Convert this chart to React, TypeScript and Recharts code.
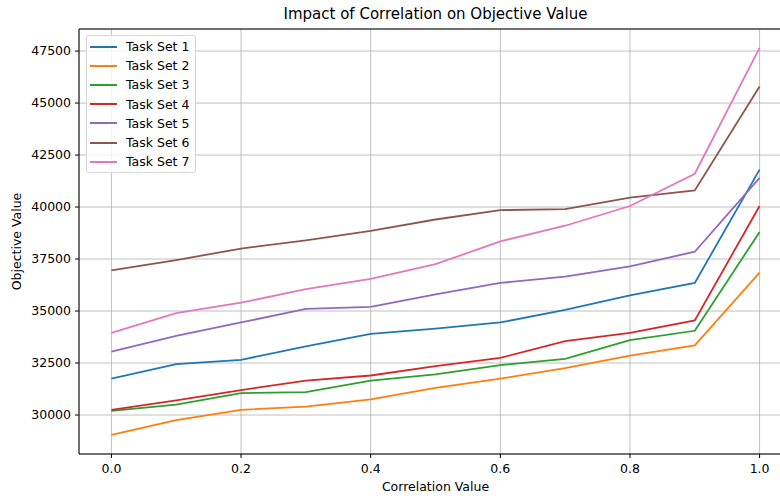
import React from 'react';
import { LineChart, Line, XAxis, YAxis, CartesianGrid, Legend, ReferenceLine } from 'recharts';

const correlation = [0, 0.1, 0.2, 0.3, 0.4, 0.5, 0.6, 0.7, 0.8, 0.9, 1.0];

const taskSet1 = [31750, 32450, 32650, 33300, 33900, 34150, 34450, 35050, 35750, 36350, 41800];
const taskSet2 = [29050, 29750, 30250, 30400, 30750, 31300, 31750, 32250, 32850, 33350, 36850];
const taskSet3 = [30200, 30500, 31050, 31100, 31650, 31950, 32400, 32700, 33600, 34050, 38800];
const taskSet4 = [30250, 30700, 31200, 31650, 31900, 32350, 32750, 33550, 33950, 34550, 40050];
const taskSet5 = [33050, 33800, 34450, 35100, 35200, 35800, 36350, 36650, 37150, 37850, 41400];
const taskSet6 = [36950, 37450, 38000, 38400, 38850, 39400, 39850, 39900, 40450, 40800, 45800];
const taskSet7 = [33950, 34900, 35400, 36050, 36550, 37250, 38350, 39100, 40050, 41600, 47650];

const xTicks = [0, 0.2, 0.4, 0.6, 0.8, 1.0];
const yTicks = [30000, 32500, 35000, 37500, 40000, 42500, 45000, 47500];

const series = [
  { key: 'ts1', name: 'Task Set 1', color: '#1f77b4', values: taskSet1 },
  { key: 'ts2', name: 'Task Set 2', color: '#ff7f0e', values: taskSet2 },
  { key: 'ts3', name: 'Task Set 3', color: '#2ca02c', values: taskSet3 },
  { key: 'ts4', name: 'Task Set 4', color: '#d62728', values: taskSet4 },
  { key: 'ts5', name: 'Task Set 5', color: '#9467bd', values: taskSet5 },
  { key: 'ts6', name: 'Task Set 6', color: '#8c564b', values: taskSet6 },
  { key: 'ts7', name: 'Task Set 7', color: '#e377c2', values: taskSet7 },
];

const chartData = correlation.map((c, i) => {
  const row: Record<string, number> = { x: c };
  series.forEach((s) => {
    row[s.key] = s.values[i];
  });
  return row;
});

const Y_MIN = 28125;
const Y_MAX = 48560;
const FONT = '"DejaVu Sans", sans-serif';

const LegendBox = () => (
  <div
    style={{
      background: 'rgba(255,255,255,0.8)',
      border: '1px solid #d6d6d6',
      borderRadius: 3,
      padding: '1px 6px 1px 3px',
      fontFamily: FONT,
      fontSize: 12.5,
      color: '#000',
    }}
  >
    {series.map((s) => (
      <div key={s.key} style={{ display: 'flex', alignItems: 'center', height: 19.2 }}>
        <span style={{ display: 'inline-block', width: 27, height: 2, background: s.color, marginRight: 9 }} />
        <span>{s.name}</span>
      </div>
    ))}
  </div>
);

export default function App() {
  return (
    <div style={{ position: 'absolute', left: 0, top: 0, width: 780, height: 496, overflow: 'hidden', background: '#fff' }}>
      {/* Title */}
      <div
        style={{
          position: 'absolute',
          left: 79,
          width: 713,
          top: 5,
          textAlign: 'center',
          fontFamily: FONT,
          fontSize: 15,
          color: '#000',
        }}
      >
        Impact of Correlation on Objective Value
      </div>

      <LineChart
        width={800}
        height={496}
        data={chartData}
        margin={{ top: 29, right: 8, bottom: 0, left: 0 }}
        style={{ position: 'absolute', left: 0, top: 0 }}
      >
        <CartesianGrid stroke="#b0b0b0" strokeWidth={0.8} />
        <XAxis
          dataKey="x"
          type="number"
          domain={[-0.05, 1.05]}
          ticks={xTicks}
          tickFormatter={(v: number) => v.toFixed(1)}
          height={42}
          tickSize={4}
          tickMargin={6}
          stroke="#000"
          tick={{ fill: '#000', fontSize: 12.5, fontFamily: FONT }}
          label={{ value: 'Correlation Value', position: 'insideBottom', offset: 5, fill: '#000', fontSize: 12.5, fontFamily: FONT }}
          allowDataOverflow
        />
        <YAxis
          type="number"
          domain={[Y_MIN, Y_MAX]}
          ticks={yTicks}
          width={79}
          tickSize={4}
          tickMargin={4}
          stroke="#000"
          tick={{ fill: '#000', fontSize: 12.5, fontFamily: FONT }}
          label={{
            value: 'Objective Value',
            angle: -90,
            position: 'insideLeft',
            offset: 17,
            fill: '#000',
            fontSize: 12.5,
            fontFamily: FONT,
            style: { textAnchor: 'middle' },
          }}
          allowDataOverflow
        />
        <ReferenceLine y={Y_MAX} stroke="#000" strokeWidth={1} />
        <Legend
          layout="vertical"
          align="center"
          verticalAlign="middle"
          content={<LegendBox />}
          wrapperStyle={{ position: 'absolute', left: 86, top: 35, width: 'auto' }}
        />
        {series.map((s) => (
          <Line
            key={s.key}
            type="linear"
            dataKey={s.key}
            name={s.name}
            stroke={s.color}
            strokeWidth={1.8}
            dot={false}
            activeDot={false}
            isAnimationActive={false}
          />
        ))}
      </LineChart>
    </div>
  );
}
